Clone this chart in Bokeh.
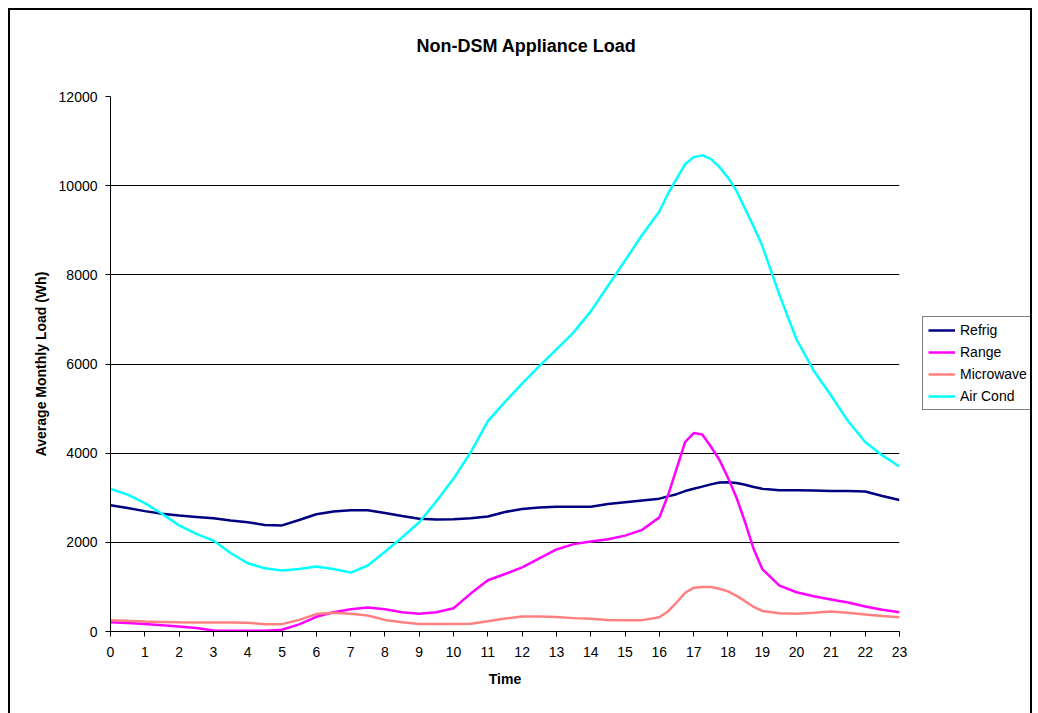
from bokeh.plotting import figure
from bokeh.layouts import row
from bokeh.models import Range1d, FixedTicker, Legend, LegendItem
from bokeh.embed import file_html
from bokeh.resources import INLINE

# ---- data ----
TIME = [0, 0.5, 1, 1.5, 2, 2.5, 3, 3.5, 4, 4.5, 5, 5.5, 6, 6.5, 7, 7.5, 8, 8.5,
        9, 9.5, 10, 10.5, 11, 11.5, 12, 12.5, 13, 13.5, 14, 14.5, 15, 15.5, 16,
        16.25, 16.5, 16.75, 17, 17.25, 17.5, 17.75, 18, 18.25, 18.5, 18.75, 19,
        19.5, 20, 20.5, 21, 21.5, 22, 22.5, 23]

REFRIG = [2830, 2770, 2700, 2640, 2600, 2570, 2540, 2490, 2450, 2390, 2380, 2500,
          2630, 2690, 2720, 2720, 2660, 2590, 2530, 2510, 2520, 2540, 2580, 2680,
          2750, 2780, 2800, 2800, 2800, 2860, 2900, 2940, 2980,
          3030, 3080, 3150, 3200, 3250, 3300, 3340, 3350, 3330, 3290, 3240, 3200,
          3170, 3170, 3160, 3150, 3150, 3140, 3040, 2950]

RANGE = [210, 190, 170, 140, 110, 80, 20, 15, 15, 15, 40, 160,
         330, 430, 500, 540, 500, 430, 400, 430, 520, 850, 1150, 1290,
         1440, 1640, 1840, 1960, 2020, 2070, 2150, 2280, 2560,
         3050, 3650, 4250, 4450, 4420, 4150, 3850, 3450, 3000, 2450, 1850, 1400,
         1030, 880, 790, 720, 650, 560, 490, 430]

MICROWAVE = [250, 240, 225, 215, 205, 200, 200, 200, 195, 165, 165, 260,
             390, 420, 400, 360, 260, 210, 170, 170, 170, 175, 230, 290,
             335, 335, 325, 300, 285, 260, 255, 255, 320,
             450, 650, 870, 980, 1000, 1000, 960, 900, 800, 680, 550, 460,
             410, 400, 420, 450, 420, 380, 350, 320]

AIRCOND = [3200, 3070, 2880, 2640, 2380, 2190, 2040, 1760, 1530, 1420, 1370, 1400,
           1460, 1400, 1320, 1480, 1790, 2110, 2450, 2920, 3430, 4020, 4720, 5150,
           5560, 5950, 6330, 6710, 7180, 7750, 8320, 8900, 9420,
           9820, 10150, 10480, 10640, 10680, 10600, 10420, 10180, 9880, 9480, 9080, 8650,
           7550, 6550, 5850, 5300, 4720, 4250, 3950, 3700]

SERIES = ["Refrig", "Range", "Microwave", "Air Cond"]
COLORS = ["#000080", "#FF00FF", "#FF8080", "#00FFFF"]
X_TICKS = list(range(0, 24))
Y_TICKS = [0, 2000, 4000, 6000, 8000, 10000, 12000]

FONT = "Liberation Sans"
ALL_Y = [REFRIG, RANGE, MICROWAVE, AIRCOND]

# ---- main chart ----
p = figure(width=901, height=703, output_backend="svg", toolbar_location=None,
           x_range=Range1d(0, 23), y_range=Range1d(0, 12000),
           min_border_left=100, min_border_right=12, min_border_top=86,
           min_border_bottom=82)

p.title.text = "Non-DSM Appliance Load\n "
p.title.align = "left"
p.title.offset = 306
p.title.standoff = 41
p.title.text_font = FONT
p.title.text_font_size = "18px"
p.title.text_font_style = "bold"
p.title.text_color = "black"

p.outline_line_color = None
p.background_fill_color = "white"
p.border_fill_color = "white"

p.xgrid.grid_line_color = None
p.ygrid.grid_line_color = "black"
p.ygrid.grid_line_width = 1
p.ygrid.ticker = FixedTicker(ticks=Y_TICKS)

for ax in (p.xaxis[0], p.yaxis[0]):
    ax.axis_line_color = "black"
    ax.axis_line_width = 1
    ax.major_tick_line_color = "black"
    ax.major_tick_out = 5
    ax.major_tick_in = 0
    ax.minor_tick_line_color = None
    ax.major_label_text_font = FONT
    ax.major_label_text_font_size = "14px"
    ax.major_label_text_color = "black"
    ax.axis_label_text_font = FONT
    ax.axis_label_text_font_size = "14px"
    ax.axis_label_text_font_style = "bold"
    ax.axis_label_text_color = "black"

p.xaxis.ticker = FixedTicker(ticks=X_TICKS)
p.yaxis.ticker = FixedTicker(ticks=Y_TICKS)
p.xaxis.axis_label = "Time"
p.yaxis.axis_label = "Average Monthly Load (Wh)"
p.xaxis.major_label_standoff = 10
p.yaxis.major_label_standoff = 8
p.xaxis.axis_label_standoff = 11
p.yaxis.axis_label_standoff = 7

for ys, col in zip(ALL_Y, COLORS):
    p.line(TIME, ys, line_color=col, line_width=2.5)

# ---- legend panel (same series, drawn out of view, only the legend shows) ----
q = figure(width=119, height=703, output_backend="svg", toolbar_location=None,
           x_axis_type=None, y_axis_type=None,
           x_range=Range1d(0, 1), y_range=Range1d(-20000, -10000), min_border=0)
q.outline_line_color = None
q.background_fill_color = "white"
q.border_fill_color = "white"

items = []
for name, ys, col in zip(SERIES, ALL_Y, COLORS):
    r = q.line(TIME, ys, line_color=col, line_width=2.5)
    items.append(LegendItem(label=name, renderers=[r]))

legend = Legend(items=items, location=(11, 221))
legend.border_line_color = "black"
legend.border_line_width = 1
legend.background_fill_color = "white"
legend.background_fill_alpha = 1
legend.label_text_font = FONT
legend.label_text_font_size = "14px"
legend.label_text_color = "black"
legend.glyph_width = 27
legend.glyph_height = 16
legend.label_height = 16
legend.label_standoff = 5
legend.spacing = 6
legend.padding = 5
legend.margin = 0
q.add_layout(legend, "center")

lay = row(p, q)
lay.styles = {"border-left": "2px solid black", "border-top": "2px solid black",
              "border-right": "2px solid black", "margin-left": "8px",
              "margin-top": "8px"}

open("out.html", "w").write(file_html(lay, INLINE))
